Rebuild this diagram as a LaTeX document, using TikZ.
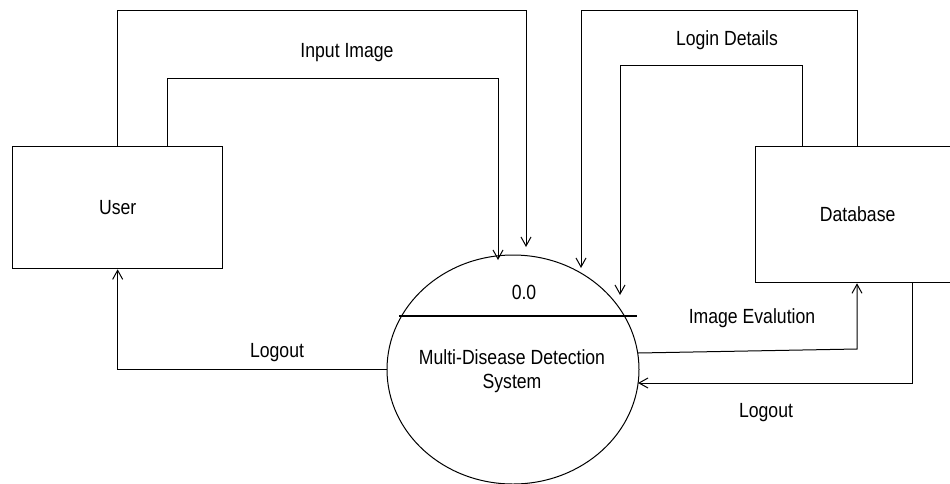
\documentclass[tikz,border=0pt]{standalone}
\usepackage{fontspec}
\setmainfont{Liberation Sans}
\usetikzlibrary{arrows.meta,shapes.geometric}
\begin{document}
\begin{tikzpicture}[x=1pt,y=-1pt,line width=1pt,
  arr/.style={-{Straight Barb[length=9pt,width=10pt]}},
  lbl/.style={font=\fontsize{20.5}{24}\selectfont,xscale=0.86,inner sep=0pt},
  ent/.style={draw,line width=1.3pt,inner sep=0pt,anchor=north west,
    font=\fontsize{20.5}{24}\selectfont}]
\useasboundingbox (0,0) rectangle (950,483);
\clip (0,0) rectangle (950,483);
% entities
\node[ent,minimum width=210pt,minimum height=122pt] (user) at (12,146) {\scalebox{0.86}[1]{User}};
\node[ent,minimum width=204pt,minimum height=136pt] (db) at (755,146) {\scalebox{0.86}[1]{Database}};
% process
\node[draw,ellipse,minimum width=252pt,minimum height=229pt,inner sep=0pt] (proc) at (513,369.5) {};
\draw[line width=2pt] (399,316) coordinate (sepL) -- (637,316) coordinate (sepR);
\node[lbl] (pid) at (524,292) {0.0};
\node[lbl,align=center] (pname) at (512,371) {Multi-Disease Detection\\System};
% connectors
\coordinate (t1) at (526,247);
\coordinate (t2) at (498,260);
\coordinate (t3) at (581,268);
\coordinate (t4) at (620,295);
\coordinate (evS) at (638,353);
\coordinate (loE) at (638,383);
\draw[arr] ([xshift=105pt]user.north west) |- (526,10) -- (t1);
\draw[arr] ([xshift=155pt]user.north west) |- (498,78) -- (t2);
\draw[arr] ([xshift=102pt]db.north west) |- (581,10) -- (t3);
\draw[arr] ([xshift=47pt]db.north west) |- (620,65) -- (t4);
\draw[arr] (proc.west) -| (user.south);
\draw[arr] (evS) -- (857,349) -- ([xshift=102pt]db.south west);
\draw[arr] ([xshift=157pt]db.south west) |- (loE);
% labels
\node[lbl] (lInput) at (347,53) {Input Image};
\node[lbl] (lLogin) at (727,40) {Login Details};
\node[lbl] (lOut1) at (277,353) {Logout};
\node[lbl] (lEval) at (752,318) {Image Evalution};
\node[lbl] (lOut2) at (766,413) {Logout};
\end{tikzpicture}
\end{document}
